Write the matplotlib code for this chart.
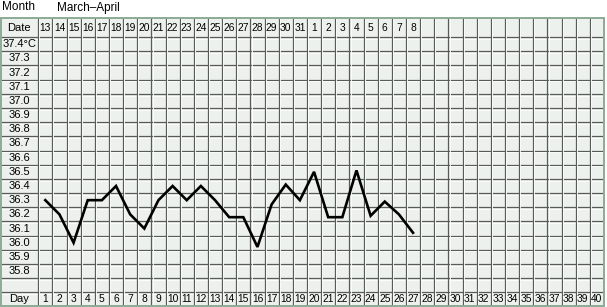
import numpy as np
import matplotlib.pyplot as plt

plt.rcParams['font.family'] = ['Liberation Sans', 'DejaVu Sans']

# chart data
month_label = "March\u2013April"
dates = [str(d) for d in range(13, 32)] + [str(d) for d in range(1, 9)]
temp_rows = [37.4, 37.3, 37.2, 37.1, 37.0, 36.9, 36.8, 36.7, 36.6, 36.5,
             36.4, 36.3, 36.2, 36.1, 36.0, 35.9, 35.8]
n_days = 40
day_nums = list(range(1, 28))
temps = [36.3, 36.2, 36.0, 36.3, 36.3, 36.4, 36.2, 36.1, 36.3, 36.4,
         36.3, 36.4, 36.3, 36.18, 36.18, 35.97, 36.27, 36.41, 36.3, 36.5,
         36.18, 36.18, 36.51, 36.19, 36.29, 36.2, 36.07]

W, H = 607, 307
fig = plt.figure(figsize=(W / 100, H / 100), dpi=100)

# table box in pixels
left_px, right_px, top_px, bot_px = 0.5, 604.0, 18.0, 306.5
ax = fig.add_axes([left_px / W, 1 - bot_px / H,
                   (right_px - left_px) / W, (bot_px - top_px) / H])

rh = 0.1  # one temperature row
lab_w = 2.667  # label column width in day columns
y_top_temp = temp_rows[0] + rh / 2
y_date_top = y_top_temp + 0.135
y_day_top = temp_rows[-1] - rh / 2 - rh
y_bot = y_day_top - rh

ax.set_xlim(-lab_w, n_days)
ax.set_ylim(y_bot, y_date_top)
ax.axis('off')

ax.add_patch(plt.Rectangle((-lab_w, y_bot), n_days + lab_w, y_date_top - y_bot,
                           facecolor='#edf1ee', edgecolor='none', zorder=0))

grid_c = '#585c58'
# horizontal lines
hlines = [y_top_temp - i * rh for i in range(len(temp_rows) + 2)]
for y in hlines:
    ax.plot([-lab_w, n_days], [y, y], color=grid_c, lw=0.9, zorder=1)
    ax.plot([-lab_w, n_days], [y - 0.012, y - 0.012], color='white', lw=0.6, zorder=1)
# vertical lines
for x in range(0, n_days):
    ax.plot([x, x], [y_bot, y_date_top], color=grid_c, lw=0.9, zorder=1)
    ax.plot([x + 0.08, x + 0.08], [y_bot, y_date_top], color='white', lw=0.6, zorder=1)

# outer border
ax.add_patch(plt.Rectangle((-lab_w, y_bot), n_days + lab_w, y_date_top - y_bot,
                           facecolor='none', edgecolor='#8cab94', lw=1.4, zorder=3,
                           clip_on=False))

fs = 7.4
ax.text(-lab_w / 2, (y_top_temp + y_date_top) / 2, "Date", ha='center', va='center',
        fontsize=fs + 0.6, zorder=4)
for i, d in enumerate(dates):
    ax.text(i + 0.5, (y_top_temp + y_date_top) / 2, d, ha='center', va='center',
            fontsize=fs, zorder=4)
for t in temp_rows:
    lab = f"{t:.1f}\u00b0C" if t == temp_rows[0] else f"{t:.1f}"
    ax.text(-lab_w / 2, t, lab, ha='center', va='center', fontsize=fs + 0.6, zorder=4)
ax.text(-lab_w / 2, y_day_top - rh / 2, "Day", ha='center', va='center',
        fontsize=fs + 0.6, zorder=4)
for i in range(n_days):
    ax.text(i + 0.5, y_day_top - rh / 2, str(i + 1), ha='center', va='center',
            fontsize=fs, zorder=4)

ax.plot(np.array(day_nums) - 0.5, temps, color='black', lw=1.9,
        solid_joinstyle='miter', zorder=5)

fig.text(2 / W, 1 - 7.5 / H, "Month", ha='left', va='center', fontsize=8.5)
fig.text(57 / W, 1 - 7.5 / H, month_label, ha='left', va='center', fontsize=8.5)

fig.savefig('out.png', dpi=100)
